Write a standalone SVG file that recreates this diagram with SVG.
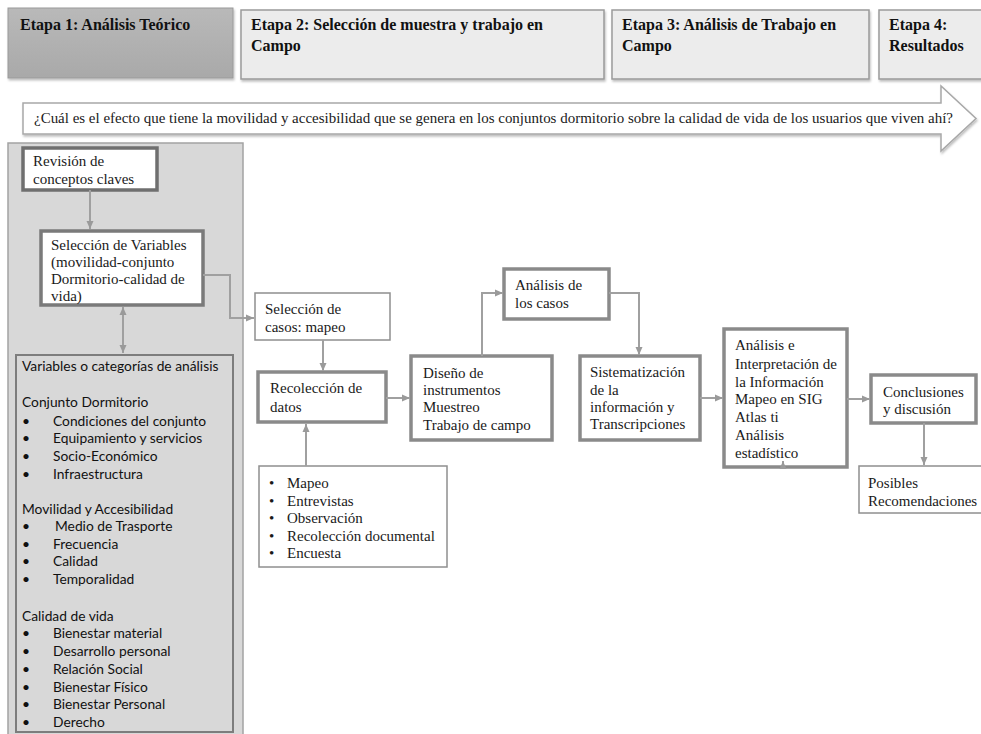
<svg xmlns="http://www.w3.org/2000/svg" width="981" height="734" viewBox="0 0 981 734">
<defs>
<style>
.serif{font-family:"Liberation Serif","Times New Roman",serif;font-size:15px;fill:#1a1a1a}
.hdr{font-family:"Liberation Serif","Times New Roman",serif;font-size:16px;font-weight:bold;fill:#111111}
.sans{font-family:Lato,"Liberation Sans",sans-serif;font-size:13.8px;fill:#111111}
.stage{fill:#ececec;stroke:#9a9a9a;stroke-width:1.5}
.thick{fill:#ffffff;stroke:#8a8a8a;stroke-width:3.5}
.thin{fill:#ffffff;stroke:#8f8f8f;stroke-width:1.5}
.conn{fill:none;stroke:#a0a0a0;stroke-width:2}
</style>
<linearGradient id="g1" x1="0" y1="0" x2="0" y2="1">
<stop offset="0" stop-color="#b9b9b9"/>
<stop offset="1" stop-color="#a9a9a9"/>
</linearGradient>
<filter id="sh" x="-5%" y="-5%" width="110%" height="120%">
<feDropShadow dx="1" dy="2" stdDeviation="1.2" flood-color="#000" flood-opacity="0.25"/>
</filter>
<marker id="ah" viewBox="0 0 8 8" refX="8" refY="4" markerWidth="8" markerHeight="8" markerUnits="userSpaceOnUse" orient="auto-start-reverse">
<path d="M0,0.5 L8,4 L0,7.5 Z" fill="#9a9a9a"/>
</marker>
</defs>
<rect width="981" height="734" fill="#ffffff"/>

<g id="etapa1">
<rect x="8" y="8" width="225" height="70" fill="url(#g1)" stroke="#9a9a9a" stroke-width="1" filter="url(#sh)"/>
<text class="hdr" x="20" y="30">Etapa 1: Análisis Teórico</text>
</g>
<g id="etapa2">
<rect class="stage" x="241" y="10" width="363" height="69" filter="url(#sh)"/>
<text class="hdr" x="251" y="30">Etapa 2: Selección de muestra y trabajo  en</text>
<text class="hdr" x="251" y="51">Campo</text>
</g>
<g id="etapa3">
<rect class="stage" x="612" y="10" width="257" height="69" filter="url(#sh)"/>
<text class="hdr" x="622" y="30">Etapa 3: Análisis de Trabajo  en</text>
<text class="hdr" x="622" y="51">Campo</text>
</g>
<g id="etapa4">
<rect class="stage" x="879" y="10" width="120" height="69" filter="url(#sh)"/>
<text class="hdr" x="889" y="30">Etapa 4:</text>
<text class="hdr" x="889" y="51">Resultados</text>
</g>

<g id="pregunta">
<path d="M23,103 H941 V86 L976,118.5 L941,151 V134 H23 Z" fill="#ffffff" stroke="#a8a8a8" stroke-width="1.5" filter="url(#sh)"/>
<text class="serif" x="34" y="123" font-size="13.5" textLength="919" lengthAdjust="spacingAndGlyphs">¿Cuál es el efecto que tiene la movilidad y accesibilidad que se genera en los conjuntos dormitorio sobre la calidad de vida de los usuarios que viven ahí?</text>
</g>

<g id="panel-etapa1">
<rect x="8" y="143" width="235" height="600" fill="#d8d8d8" stroke="#a3a3a3" stroke-width="1.5"/>
</g>

<g id="revision">
<rect x="23" y="148" width="134" height="42" fill="#ffffff" stroke="#6f6f6f" stroke-width="3.5"/>
<text class="serif" x="33" y="166">Revisión de</text>
<text class="serif" x="33" y="184">conceptos claves</text>
</g>

<g id="seleccion-variables">
<rect x="41" y="231" width="162" height="74" fill="#ffffff" stroke="#7a7a7a" stroke-width="3.5"/>
<text class="serif" x="51" y="250">Selección de Variables</text>
<text class="serif" x="51" y="267">(movilidad-conjunto</text>
<text class="serif" x="51" y="284">Dormitorio-calidad de</text>
<text class="serif" x="51" y="301">vida)</text>
</g>

<g id="variables-analisis">
<rect x="16" y="355" width="217" height="377" fill="#d8d8d8" stroke="#7d7d7d" stroke-width="2"/>
<text class="sans" x="22" y="371">Variables o categorías de análisis</text>
<text class="sans" x="22" y="407">Conjunto Dormitorio</text>
<text class="sans" x="22" y="426">•</text><text class="sans" x="53" y="426">Condiciones del conjunto</text>
<text class="sans" x="22" y="443">•</text><text class="sans" x="53" y="443">Equipamiento y servicios</text>
<text class="sans" x="22" y="461">•</text><text class="sans" x="53" y="461">Socio-Económico</text>
<text class="sans" x="22" y="479">•</text><text class="sans" x="53" y="479">Infraestructura</text>
<text class="sans" x="22" y="514">Movilidad y Accesibilidad</text>
<text class="sans" x="22" y="531">•</text><text class="sans" x="55" y="531">Medio de Trasporte</text>
<text class="sans" x="22" y="549">•</text><text class="sans" x="53" y="549">Frecuencia</text>
<text class="sans" x="22" y="566">•</text><text class="sans" x="53" y="566">Calidad</text>
<text class="sans" x="22" y="584">•</text><text class="sans" x="53" y="584">Temporalidad</text>
<text class="sans" x="22" y="621">Calidad de vida</text>
<text class="sans" x="22" y="638">•</text><text class="sans" x="53" y="638">Bienestar material</text>
<text class="sans" x="22" y="656">•</text><text class="sans" x="53" y="656">Desarrollo personal</text>
<text class="sans" x="22" y="674">•</text><text class="sans" x="53" y="674">Relación Social</text>
<text class="sans" x="22" y="692">•</text><text class="sans" x="53" y="692">Bienestar Físico</text>
<text class="sans" x="22" y="709">•</text><text class="sans" x="53" y="709">Bienestar Personal</text>
<text class="sans" x="22" y="727">•</text><text class="sans" x="53" y="727">Derecho</text>
</g>

<g id="seleccion-casos">
<rect class="thin" x="255" y="293" width="135" height="47"/>
<text class="serif" x="265" y="314">Selección de</text>
<text class="serif" x="265" y="332">casos: mapeo</text>
</g>

<g id="recoleccion">
<rect class="thick" x="258" y="372" width="128" height="50"/>
<text class="serif" x="270" y="393">Recolección de</text>
<text class="serif" x="270" y="412">datos</text>
</g>

<g id="tecnicas">
<rect class="thin" x="259" y="466" width="188" height="101"/>
<text class="serif" x="269" y="488">•</text><text class="serif" x="287" y="488">Mapeo</text>
<text class="serif" x="269" y="506">•</text><text class="serif" x="287" y="506">Entrevistas</text>
<text class="serif" x="269" y="523">•</text><text class="serif" x="287" y="523">Observación</text>
<text class="serif" x="269" y="541">•</text><text class="serif" x="287" y="541">Recolección documental</text>
<text class="serif" x="269" y="558">•</text><text class="serif" x="287" y="558">Encuesta</text>
</g>

<g id="diseno">
<rect class="thick" x="411" y="356" width="141" height="84"/>
<text class="serif" x="423" y="378">Diseño de</text>
<text class="serif" x="423" y="395">instrumentos</text>
<text class="serif" x="423" y="412">Muestreo</text>
<text class="serif" x="423" y="430">Trabajo de campo</text>
</g>

<g id="analisis-casos">
<rect class="thick" x="504" y="269" width="105" height="50"/>
<text class="serif" x="515" y="290">Análisis de</text>
<text class="serif" x="515" y="308">los casos</text>
</g>

<g id="sistematizacion">
<rect class="thick" x="580" y="356" width="120" height="84"/>
<text class="serif" x="590" y="377">Sistematización</text>
<text class="serif" x="590" y="395">de la</text>
<text class="serif" x="590" y="412">información y</text>
<text class="serif" x="590" y="429">Transcripciones</text>
</g>

<g id="analisis-interpretacion">
<rect class="thick" x="724" y="329" width="123" height="138"/>
<text class="serif" x="735" y="350">Análisis e</text>
<text class="serif" x="735" y="369">Interpretación de</text>
<text class="serif" x="735" y="387">la Información</text>
<text class="serif" x="735" y="404">Mapeo en SIG</text>
<text class="serif" x="735" y="422">Atlas ti</text>
<text class="serif" x="735" y="440">Análisis</text>
<text class="serif" x="735" y="458">estadístico</text>
</g>

<g id="conclusiones">
<rect class="thick" x="871" y="375" width="105" height="48"/>
<text class="serif" x="883" y="397">Conclusiones</text>
<text class="serif" x="883" y="414">y discusión</text>
</g>

<g id="recomendaciones">
<rect class="thin" x="859" y="466" width="130" height="47"/>
<text class="serif" x="868" y="488">Posibles</text>
<text class="serif" x="868" y="506">Recomendaciones</text>
</g>

<g id="connectors">
<path class="conn" d="M90,190 V229" marker-end="url(#ah)"/>
<path class="conn" d="M123,307 V353" marker-start="url(#ah)" marker-end="url(#ah)"/>
<path class="conn" d="M203,275 H230 V318 H254" marker-end="url(#ah)"/>
<path class="conn" d="M323,340 V371" marker-end="url(#ah)"/>
<path class="conn" d="M306,466 V424" marker-end="url(#ah)"/>
<path class="conn" d="M386,398 H410" marker-end="url(#ah)"/>
<path class="conn" d="M482,356 V293 H503" marker-end="url(#ah)"/>
<path class="conn" d="M609,293 H639 V355" marker-end="url(#ah)"/>
<path class="conn" d="M700,398 H723" marker-end="url(#ah)"/>
<path class="conn" d="M847,399 H870" marker-end="url(#ah)"/>
<path class="conn" d="M924,423 V465" marker-end="url(#ah)"/>
<path class="conn" d="M783,466 V461" marker-end="url(#ah)"/>
</g>
</svg>
